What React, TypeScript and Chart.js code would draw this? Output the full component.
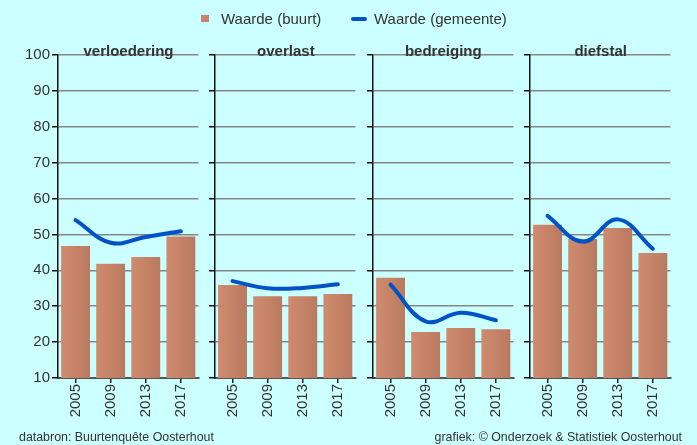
import React, { useEffect, useRef } from 'react';
import { Chart, registerables } from 'chart.js';
Chart.register(...registerables);

const years = ['2005', '2009', '2013', '2017'];
const panelTitles = ['verloedering', 'overlast', 'bedreiging', 'diefstal'];
const buurtVerloedering = [46.8, 41.8, 43.7, 49.4];
const gemeenteVerloedering = [54, 47.7, 49.3, 50.9];
const buurtOverlast = [35.9, 32.8, 32.8, 33.4];
const gemeenteOverlast = [37, 35, 35.1, 36.1];
const buurtBedreiging = [37.9, 22.8, 23.9, 23.6];
const gemeenteBedreiging = [36, 25.8, 28.2, 26.1];
const buurtDiefstal = [52.7, 48.7, 51.8, 44.8];
const gemeenteDiefstal = [55.2, 48, 54.2, 46];
const legendLabels = ['Waarde (buurt)', 'Waarde (gemeente)'];
const footerLeft = 'databron: Buurtenquête Oosterhout';
const footerRight = 'grafiek: © Onderzoek & Statistiek Oosterhout';

const buurtSeries = [buurtVerloedering, buurtOverlast, buurtBedreiging, buurtDiefstal];
const gemeenteSeries = [gemeenteVerloedering, gemeenteOverlast, gemeenteBedreiging, gemeenteDiefstal];

const BG = '#ccffff';
const BAR = '#c7846a';
const LINE = '#0052c6';
const TEXT = '#333333';
const FONT = '"Liberation Sans", Arial, Helvetica, sans-serif';

const PANEL_STEP = 157.4;
const CANVAS_W = 200;
const CANVAS_H = 445;

const gradientBars = {
  id: 'gradientBars',
  beforeDatasetsDraw(chart: any) {
    const ctx = chart.ctx;
    chart.data.datasets.forEach((ds: any, di: number) => {
      if (ds.type !== 'bar') return;
      const meta = chart.getDatasetMeta(di);
      meta.data.forEach((bar: any) => {
        const l = bar.x - bar.width / 2;
        const r = bar.x + bar.width / 2;
        const g = ctx.createLinearGradient(l, 0, r, 0);
        g.addColorStop(0, '#d08b6e');
        g.addColorStop(1, '#b97a60');
        bar.options = Object.assign({}, bar.options, { backgroundColor: g });
      });
    });
  },
};

function Panel({ index }: { index: number }) {
  const ref = useRef<HTMLCanvasElement>(null);
  useEffect(() => {
    if (!ref.current) return;
    const chart = new Chart(ref.current, {
      type: 'bar',
      data: {
        labels: years,
        datasets: [
          {
            type: 'line',
            label: legendLabels[1],
            data: gemeenteSeries[index],
            borderColor: LINE,
            borderWidth: 4,
            pointRadius: 0,
            tension: 0.4,
            fill: false,
            borderCapStyle: 'round',
          } as any,
          {
            type: 'bar',
            label: legendLabels[0],
            data: buurtSeries[index],
            backgroundColor: BAR,
            barPercentage: 0.823,
            categoryPercentage: 1,
          } as any,
        ],
      },
      options: {
        responsive: false,
        animation: false,
        devicePixelRatio: 1,
        layout: { padding: { top: 55, right: 1, left: 0, bottom: 0 } },
        plugins: {
          legend: { display: false },
          tooltip: { enabled: false },
          title: { display: false },
        },
        scales: {
          x: {
            offset: true,
            grid: {
              offset: false,
              drawOnChartArea: false,
              drawTicks: true,
              tickLength: 5,
              color: '#222',
              tickColor: '#222',
              lineWidth: 1.5,
            },
            border: { color: '#555', width: 2 },
            ticks: {
              minRotation: 90,
              maxRotation: 90,
              padding: 1,
              color: TEXT,
              font: { size: 15, family: FONT },
            },
            afterFit: (s: any) => {
              s.height = 67;
            },
          },
          y: {
            min: 10,
            max: 100,
            ticks: {
              stepSize: 10,
              display: index === 0,
              padding: 2,
              color: TEXT,
              font: { size: 15, family: FONT },
            },
            grid: {
              color: '#858585',
              lineWidth: 1.5,
              drawTicks: true,
              tickLength: 6,
              tickColor: '#111',
            },
            border: { color: '#111', width: 1.5 },
            afterFit: (s: any) => {
              s.width = 58;
            },
          },
        },
      } as any,
      plugins: [gradientBars],
    });
    return () => chart.destroy();
  }, [index]);
  return (
    <canvas
      ref={ref}
      width={CANVAS_W}
      height={CANVAS_H}
      style={{ position: 'absolute', left: index * PANEL_STEP, top: 0, width: CANVAS_W, height: CANVAS_H }}
    />
  );
}

export default function App() {
  useEffect(() => {
    document.body.style.margin = '0';
    document.body.style.background = BG;
  }, []);
  const textBase: React.CSSProperties = {
    position: 'absolute',
    fontFamily: FONT,
    color: TEXT,
    whiteSpace: 'nowrap',
    lineHeight: '1',
  };
  return (
    <div style={{ position: 'fixed', left: 0, top: 0, width: 697, height: 445, background: BG, overflow: 'hidden' }}>
      {panelTitles.map((_, i) => (
        <Panel key={i} index={i} />
      ))}
      {panelTitles.map((t, i) => (
        <div
          key={'t' + i}
          style={{
            ...textBase,
            left: 58 + i * PANEL_STEP,
            width: 141,
            top: 43,
            textAlign: 'center',
            fontWeight: 'bold',
            fontSize: 15,
          }}
        >
          {t}
        </div>
      ))}
      <div style={{ position: 'absolute', left: 201, top: 15, width: 8, height: 7, background: BAR }} />
      <div style={{ ...textBase, left: 221, top: 11, fontSize: 15 }}>{legendLabels[0]}</div>
      <div style={{ position: 'absolute', left: 351, top: 16.5, width: 16, height: 4, borderRadius: 2, background: LINE }} />
      <div style={{ ...textBase, left: 374, top: 11, fontSize: 15 }}>{legendLabels[1]}</div>
      <div style={{ ...textBase, left: 19, top: 431, fontSize: 12.4 }}>{footerLeft}</div>
      <div style={{ ...textBase, right: 697 - 682, top: 431, fontSize: 12.4 }}>{footerRight}</div>
    </div>
  );
}
